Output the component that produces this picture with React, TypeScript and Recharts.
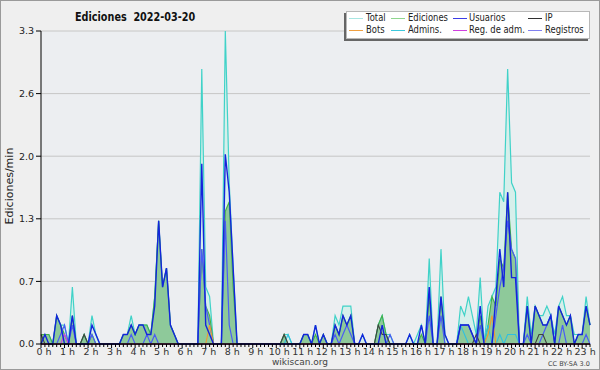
import { ComposedChart, Area, Line, XAxis, YAxis, CartesianGrid, ReferenceLine } from "recharts";

// 10-minute buckets, 0:00 .. 23:20 (edits per minute)
const total = [
  0.1, 0.1, 0.1, 0, 0.3, 0.2,
  0.2, 0, 0.6, 0, 0, 0.1,
  0, 0.3, 0.1, 0, 0, 0,
  0, 0, 0, 0.1, 0.1, 0.3,
  0.1, 0.2, 0.2, 0.2, 0.1, 0.5,
  1.3, 0.6, 0.8, 0.2, 0.1, 0,
  0, 0, 0, 0, 0, 2.9,
  0.6, 0.5, 0, 0, 0, 3.3,
  1.7, 0.8, 0, 0, 0, 0,
  0, 0, 0, 0, 0, 0,
  0, 0, 0.1, 0.1, 0, 0,
  0, 0.1, 0.1, 0, 0.2, 0,
  0.1, 0, 0, 0.3, 0.2, 0.4,
  0.4, 0.4, 0, 0, 0.1, 0,
  0, 0, 0.2, 0.3, 0.1, 0.1,
  0, 0, 0, 0, 0.1, 0,
  0.1, 0.2, 0, 0.9, 0, 0,
  1.0, 0.1, 0, 0, 0, 0.4,
  0.3, 0.5, 0.3, 0.1, 0.7, 0,
  0.4, 0.5, 0.6, 1.6, 1.5, 2.9,
  1.7, 1.6, 0, 0, 0.5, 0.1,
  0.4, 0.3, 0.3, 0.4, 0.3, 0.1,
  0.4, 0.5, 0.3, 0.3, 0.1, 0.1,
  0.1, 0.5, 0.2,
];

const ediciones = [
  0.1, 0.1, 0.1, 0, 0.3, 0.2,
  0.1, 0, 0.3, 0, 0, 0.1,
  0, 0.1, 0, 0, 0, 0,
  0, 0, 0, 0.1, 0.1, 0.2,
  0.1, 0.2, 0.2, 0.2, 0.1, 0.5,
  1.3, 0.6, 0.8, 0.2, 0.1, 0,
  0, 0, 0, 0, 0, 1.0,
  0.4, 0.3, 0, 0, 0, 1.4,
  1.5, 0.6, 0, 0, 0, 0,
  0, 0, 0, 0, 0, 0,
  0, 0, 0.1, 0, 0, 0,
  0, 0.1, 0.1, 0, 0.1, 0,
  0.1, 0, 0, 0.2, 0.1, 0.3,
  0.2, 0.3, 0, 0, 0, 0,
  0, 0, 0.2, 0.3, 0.1, 0,
  0, 0, 0, 0, 0, 0,
  0, 0.1, 0, 0.5, 0, 0,
  0.5, 0, 0, 0, 0, 0.2,
  0.2, 0.2, 0.1, 0, 0.3, 0,
  0.2, 0.5, 0.4, 0.9, 0.8, 1.6,
  1.0, 0.9, 0, 0, 0.4, 0,
  0.4, 0.3, 0.2, 0.2, 0.3, 0,
  0.4, 0.3, 0.2, 0.3, 0, 0.1,
  0.1, 0.4, 0.2,
];

const usuarios = [
  0, 0.1, 0, 0, 0.3, 0.2,
  0, 0, 0.3, 0, 0, 0,
  0, 0.2, 0.1, 0, 0, 0,
  0, 0, 0, 0.1, 0.1, 0.2,
  0.1, 0.2, 0.2, 0.1, 0.1, 0.4,
  1.3, 0.6, 0.8, 0.2, 0.1, 0,
  0, 0, 0, 0, 0, 1.9,
  0.2, 0.1, 0, 0, 0, 2.0,
  1.6, 0.8, 0, 0, 0, 0,
  0, 0, 0, 0, 0, 0,
  0, 0, 0, 0, 0, 0,
  0, 0.1, 0.1, 0, 0.2, 0,
  0.1, 0, 0, 0.2, 0.1, 0.3,
  0.2, 0.3, 0, 0, 0.1, 0,
  0, 0, 0, 0.2, 0, 0,
  0, 0, 0, 0, 0.1, 0,
  0, 0.2, 0, 0.6, 0, 0,
  0.5, 0.1, 0, 0, 0, 0.2,
  0.2, 0.2, 0.1, 0, 0.4, 0,
  0, 0, 0.5, 1.0, 0.6, 1.6,
  0.7, 0.7, 0, 0, 0.4, 0,
  0.4, 0.3, 0.2, 0.2, 0.3, 0,
  0.4, 0.3, 0.2, 0.3, 0, 0.1,
  0.1, 0.4, 0.2,
];

const registros = [
  0, 0, 0, 0, 0, 0.1,
  0.2, 0, 0.2, 0, 0, 0,
  0, 0.1, 0, 0, 0, 0,
  0, 0, 0, 0, 0, 0.1,
  0, 0, 0, 0.1, 0, 0.1,
  0, 0, 0, 0, 0, 0,
  0, 0, 0, 0, 0, 1.0,
  0.4, 0.2, 0, 0, 0, 1.3,
  0.2, 0, 0, 0, 0, 0,
  0, 0, 0, 0, 0, 0,
  0, 0, 0, 0, 0, 0,
  0, 0, 0, 0, 0, 0,
  0, 0, 0, 0.1, 0, 0.1,
  0.2, 0.1, 0, 0, 0, 0,
  0, 0, 0, 0, 0, 0.1,
  0, 0, 0, 0, 0, 0,
  0, 0, 0, 0.3, 0, 0,
  0.3, 0, 0, 0, 0, 0.2,
  0.2, 0.2, 0.1, 0, 0.2, 0,
  0, 0, 0.3, 0.6, 0.8, 1.3,
  1.0, 0.9, 0, 0, 0.1, 0,
  0, 0, 0.1, 0.2, 0.3, 0,
  0, 0.2, 0, 0, 0, 0,
  0, 0.1, 0,
];

const ip = [
  0.1, 0, 0, 0, 0, 0,
  0, 0, 0, 0, 0, 0.1,
  0, 0, 0, 0, 0, 0,
  0, 0, 0, 0, 0, 0,
  0, 0, 0, 0, 0, 0,
  0, 0, 0, 0, 0, 0,
  0, 0, 0, 0, 0, 0,
  0, 0, 0, 0, 0, 0,
  0, 0, 0, 0, 0, 0,
  0, 0, 0, 0, 0, 0,
  0, 0, 0.1, 0, 0, 0,
  0, 0, 0, 0, 0, 0,
  0, 0, 0, 0, 0, 0,
  0, 0, 0, 0, 0, 0,
  0, 0, 0.2, 0.1, 0.1, 0,
  0, 0, 0, 0, 0, 0,
  0, 0, 0, 0, 0, 0,
  0, 0, 0, 0, 0, 0,
  0, 0, 0, 0.1, 0, 0,
  0, 0, 0, 0, 0, 0,
  0, 0, 0, 0, 0, 0,
  0, 0.1, 0.1, 0, 0, 0,
  0, 0, 0, 0, 0, 0,
  0, 0, 0,
];

const bots = [
  0, 0, 0, 0, 0, 0,
  0, 0, 0, 0, 0, 0,
  0, 0, 0, 0, 0, 0,
  0, 0, 0, 0, 0, 0,
  0, 0, 0, 0, 0, 0,
  0, 0, 0, 0, 0, 0,
  0, 0, 0, 0, 0, 0,
  0, 0.2, 0, 0, 0, 0,
  0, 0, 0, 0, 0, 0,
  0, 0, 0, 0, 0, 0,
  0, 0, 0, 0, 0, 0,
  0, 0, 0, 0, 0, 0,
  0, 0, 0, 0, 0, 0,
  0, 0, 0, 0, 0, 0,
  0, 0, 0, 0, 0, 0,
  0, 0, 0, 0, 0, 0,
  0, 0, 0, 0, 0, 0,
  0, 0, 0, 0, 0, 0,
  0, 0, 0, 0, 0, 0,
  0.1, 0.3, 0, 0, 0, 0,
  0, 0, 0, 0, 0, 0,
  0, 0, 0, 0, 0, 0,
  0, 0, 0, 0, 0, 0,
  0, 0, 0,
];

const admins = [
  0, 0, 0, 0, 0, 0,
  0, 0, 0, 0, 0, 0,
  0, 0, 0, 0, 0, 0,
  0, 0, 0, 0, 0, 0,
  0, 0, 0, 0, 0, 0,
  0, 0, 0, 0, 0, 0,
  0, 0, 0, 0, 0, 0,
  0, 0, 0, 0, 0, 0,
  0, 0, 0, 0, 0, 0,
  0, 0, 0, 0, 0, 0,
  0, 0, 0, 0.1, 0, 0,
  0, 0, 0, 0, 0, 0,
  0, 0, 0, 0, 0, 0,
  0, 0, 0, 0, 0, 0,
  0, 0, 0, 0, 0, 0,
  0, 0, 0, 0, 0, 0,
  0, 0, 0, 0, 0, 0,
  0, 0, 0, 0, 0, 0.2,
  0.1, 0, 0, 0, 0, 0,
  0.2, 0, 0, 0.1, 0, 0.1,
  0.1, 0.1, 0, 0, 0, 0,
  0, 0, 0, 0, 0, 0,
  0, 0, 0, 0, 0, 0,
  0, 0, 0,
];

const regAdm = [
  0, 0, 0, 0, 0, 0,
  0.1, 0, 0, 0, 0, 0,
  0, 0, 0, 0, 0, 0,
  0, 0, 0, 0, 0, 0,
  0, 0, 0, 0, 0, 0,
  0, 0, 0, 0, 0, 0,
  0, 0, 0, 0, 0, 0,
  0, 0, 0, 0, 0, 0,
  0, 0, 0, 0, 0, 0,
  0, 0, 0, 0, 0, 0,
  0, 0, 0, 0, 0, 0,
  0, 0, 0, 0, 0, 0,
  0, 0, 0, 0, 0, 0,
  0, 0, 0, 0, 0, 0,
  0, 0, 0, 0, 0, 0,
  0, 0, 0, 0, 0, 0,
  0, 0, 0, 0, 0, 0,
  0, 0, 0, 0, 0, 0,
  0, 0, 0, 0, 0, 0,
  0, 0, 0, 0, 0, 0,
  0, 0, 0, 0, 0, 0,
  0, 0, 0, 0, 0, 0,
  0, 0, 0, 0, 0, 0,
  0, 0, 0,
];

const hourLabels = [
  "0 h", "1 h", "2 h", "3 h", "4 h", "5 h", "6 h", "7 h", "8 h", "9 h", "10 h", "11 h",
  "12 h", "13 h", "14 h", "15 h", "16 h", "17 h", "18 h", "19 h", "20 h", "21 h", "22 h", "23 h",
];
const yTicks = [0, 0.66, 1.32, 1.98, 2.64, 3.3];

const legendItems = [
  { name: "Total", color: "#a8e6e2" },
  { name: "Ediciones", color: "#8fd68f" },
  { name: "Usuarios", color: "#3c3ce6" },
  { name: "IP", color: "#303030" },
  { name: "Bots", color: "#f0a040" },
  { name: "Admins.", color: "#3cc8dc" },
  { name: "Reg. de adm.", color: "#d040e0" },
  { name: "Registros", color: "#8080f0" },
];

const data = total.map((t, i) => ({
  i,
  total: t,
  ediciones: ediciones[i],
  usuarios: usuarios[i],
  registros: registros[i],
  ip: ip[i],
  bots: bots[i],
  admins: admins[i],
  regAdm: regAdm[i],
}));

const xTicks = data.map((d) => d.i);

const FONT = "'DejaVu Sans', sans-serif";

const HourTick = ({ x, y, payload }: any) => {
  const idx = payload.value as number;
  const isHour = idx % 6 === 0;
  return (
    <g>
      <line x1={x} y1={y} x2={x} y2={y + (isHour ? 4 : 3)} stroke="#000" />
      {isHour && (
        <text x={x + 3} y={y + 11} textAnchor="middle" fontSize={9.5} fontFamily={FONT} fill="#333">
          {hourLabels[idx / 6]}
        </text>
      )}
    </g>
  );
};

export default function App() {
  const colW = [349, 391, 453, 528];
  const textX = [366, 408, 469, 545];
  return (
    <div style={{ position: "absolute", left: 0, top: 0, width: 600, height: 370, background: "#efefef", fontFamily: FONT }}>
      <ComposedChart width={600} height={370} data={data} margin={{ top: 31, right: 10, bottom: 6, left: 0 }}>
        <CartesianGrid vertical={false} stroke="#c6c6c6" fill="#eceef1" />
        <XAxis
          dataKey="i"
          type="number"
          domain={[0, 140]}
          ticks={xTicks}
          interval={0}
          tick={<HourTick />}
          tickLine={false}
          tickSize={0}
          tickMargin={0}
          height={20}
          axisLine={{ stroke: "#000" }}
        />
        <YAxis
          type="number"
          domain={[0, 3.3]}
          ticks={yTicks}
          interval={0}
          width={41}
          tickSize={5}
          tickMargin={2}
          tickFormatter={(v: number) => v.toFixed(1)}
          tick={{ fontSize: 9.5, fill: "#222", fontFamily: FONT }}
          axisLine={{ stroke: "#000" }}
          tickLine={{ stroke: "#000" }}
        />
        <Area dataKey="total" type="linear" stroke="none" fill="#d6efeb" fillOpacity={1} isAnimationActive={false} />
        <Area dataKey="ediciones" type="linear" stroke="none" fill="#8ec99a" fillOpacity={1} isAnimationActive={false} />
        <Line dataKey="total" type="linear" stroke="#40d2c8" strokeWidth={1.2} dot={false} isAnimationActive={false} />
        <Line dataKey="ediciones" type="linear" stroke="#44b048" strokeWidth={1.1} dot={false} isAnimationActive={false} />
        <Line dataKey="admins" type="linear" stroke="#30c0e0" strokeWidth={1.1} dot={false} isAnimationActive={false} />
        <Line dataKey="registros" type="linear" stroke="#4a5cf4" strokeWidth={1.2} dot={false} isAnimationActive={false} />
        <Line dataKey="ip" type="linear" stroke="#404040" strokeWidth={1.1} dot={false} isAnimationActive={false} />
        <Line dataKey="bots" type="linear" stroke="#f09a30" strokeWidth={1.1} dot={false} isAnimationActive={false} />
        <Line dataKey="regAdm" type="linear" stroke="#d040e0" strokeWidth={1.1} dot={false} isAnimationActive={false} />
        <Line dataKey="usuarios" type="linear" stroke="#1424dc" strokeWidth={1.4} dot={false} isAnimationActive={false} />
        <ReferenceLine y={0} stroke="#000" strokeWidth={1.2} />
      </ComposedChart>

      {/* frame */}
      <div style={{ position: "absolute", inset: 0, border: "1px solid #9a9a9a", pointerEvents: "none" }} />

      {/* title */}
      <div
        style={{
          position: "absolute",
          left: 75,
          top: 10,
          fontSize: 11.5,
          fontWeight: "bold",
          whiteSpace: "pre",
          color: "#111",
          transform: "scaleX(0.84)",
          transformOrigin: "0 50%",
        }}
      >
        {"Ediciones  2022-03-20"}
      </div>

      {/* y label */}
      <div
        style={{
          position: "absolute",
          left: 9,
          top: 186,
          transform: "translate(-50%, -50%) rotate(-90deg)",
          fontSize: 11,
          whiteSpace: "nowrap",
          color: "#222",
        }}
      >
        Ediciones/min
      </div>

      {/* legend */}
      <div
        style={{
          position: "absolute",
          left: 346,
          top: 11,
          width: 244,
          height: 28,
          background: "#fff",
          border: "1px solid #b8b8b8",
          boxSizing: "border-box",
          boxShadow: "-2px 2px 0 #666",
        }}
      />
      {legendItems.map((it, k) => {
        const col = k % 4;
        const row = Math.floor(k / 4);
        const cy = row === 0 ? 18 : 30;
        return (
          <div key={it.name}>
            <div style={{ position: "absolute", left: colW[col], top: cy, width: 14, height: 1, background: it.color }} />
            <div
              style={{
                position: "absolute",
                left: textX[col],
                top: cy - 5,
                height: 10,
                fontSize: 10,
                lineHeight: "10px",
                color: "#222",
                whiteSpace: "nowrap",
                transform: "scaleX(0.84)",
                transformOrigin: "0 50%",
              }}
            >
              {it.name}
            </div>
          </div>
        );
      })}

      {/* footer */}
      <div style={{ position: "absolute", left: 0, width: 600, top: 357, textAlign: "center", fontSize: 9, lineHeight: "10px", color: "#444" }}>
        wikiscan.org
      </div>
      <div style={{ position: "absolute", left: 548, top: 360, fontSize: 6.5, lineHeight: "8px", color: "#444", whiteSpace: "nowrap" }}>
        CC BY-SA 3.0
      </div>
    </div>
  );
}
